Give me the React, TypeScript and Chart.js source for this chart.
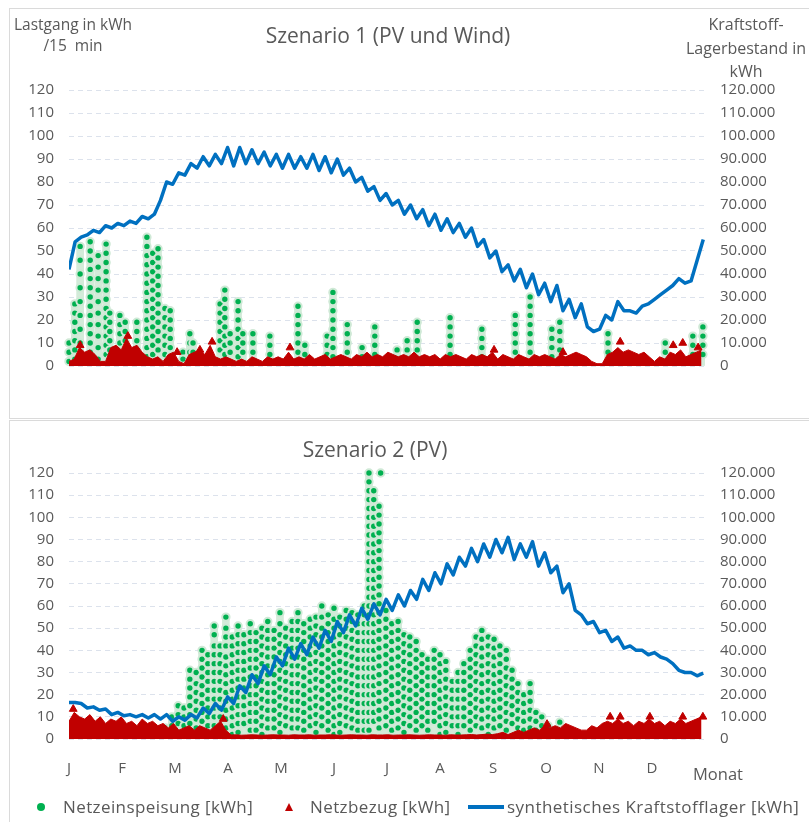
import React, { useEffect, useRef } from "react";
import { Chart, registerables } from "chart.js";

Chart.register(...registerables);

const FONT = "'Open Sans', 'Noto Sans', sans-serif";
const TEXT = "#595959";
const GREEN = "#00B050";
const RED = "#C00000";
const BLUE = "#0070C0";
const PALE = "#d3ebd9";

// x axis: months (0 = start of January ... 12 = end of December)
const monthLabels = ["J", "F", "M", "A", "M", "J", "J", "A", "S", "O", "N", "D"];
const gridStepDays = 3; // Netzbezug samples every 3 days
const fuelStepDays = 3.5; // Kraftstofflager samples every 3.5 days

// ---------- Szenario 1 (PV und Wind) ----------
// Netzeinspeisung: columns of 15-min values (position in months, visible dot values in kWh)
const s1FeedX = [
  0.0, 0.11, 0.21, 0.4, 0.55, 0.7, 0.77, 0.96, 1.06, 1.28, 1.47, 1.58, 1.68, 1.81, 1.91,
  2.15, 2.28, 2.34, 2.85, 2.94, 3.04, 3.19, 3.28, 3.47, 3.79, 4.32, 4.45, 4.87, 4.98, 5.25,
  5.53, 5.77, 6.19, 6.38, 6.57, 7.19, 7.79, 8.42, 8.7, 9.11, 9.26, 10.17, 11.25, 11.77, 11.96,
];
const s1FeedDots = [
  [10, 6, 2],
  [27, 23, 19, 15, 11, 7, 3],
  [52, 46, 40, 34, 28, 22, 16, 10, 4],
  [54, 50, 46, 42, 38, 34, 30, 26, 22, 18, 14, 10, 6, 2],
  [48, 43, 38, 33, 28, 23, 18, 13, 8, 3],
  [53, 49, 45, 41, 37, 33, 29, 25, 21, 17, 13, 9, 5],
  [23, 19, 15, 11, 7, 3],
  [22, 18, 14, 10, 6],
  [19, 15, 11, 7, 3],
  [19, 15, 11, 7, 3],
  [56, 52, 48, 44, 40, 36, 32, 28, 24, 20, 16, 12, 8, 4],
  [49, 45, 41, 37, 33, 29, 25, 21, 17, 13, 9, 5],
  [51, 47, 43, 39, 35, 31, 27, 23, 19, 15, 11, 7],
  [25, 21, 17, 13, 9, 5],
  [24, 20, 16, 12, 8, 4],
  [6, 3],
  [14, 10, 6, 2],
  [10, 6],
  [27, 23, 19, 15, 11, 7],
  [33, 29, 25, 21, 17, 13, 9, 5],
  [14, 10, 6],
  [28, 24, 20, 16, 12, 8, 4],
  [14, 10, 6],
  [14, 10, 6, 2],
  [13, 9, 5],
  [26, 22, 18, 14, 10, 6],
  [9, 5],
  [13, 9, 5],
  [32, 28, 24, 20, 16, 12, 8, 4],
  [18, 14, 10, 6],
  [8, 4],
  [17, 13, 9, 5],
  [7, 3],
  [11, 7, 3],
  [19, 15, 11, 7, 3],
  [21, 17, 13, 9, 5],
  [16, 12, 8, 4],
  [22, 18, 14, 10, 6],
  [30, 26, 22, 18, 14, 10, 6],
  [16, 12, 8, 4],
  [19, 15, 11, 7, 3],
  [14, 10, 6],
  [10, 6, 2],
  [13, 9, 5],
  [17, 13, 9, 5],
];
const s1FeedExtra: number[][] = [];
// Netzbezug in kWh / 15 min (every 3 days)
const s1Grid = [
  2, 3, 8, 6, 7, 5, 2, 2, 8, 9, 7, 12, 8, 9, 6, 4, 3, 4, 2, 5,
  6, 2, 1, 5, 6, 7, 5, 9, 4, 3, 4, 3, 2, 3, 2, 4, 3, 2, 4, 3,
  4, 3, 6, 3, 4, 3, 5, 3, 4, 5, 3, 4, 5, 4, 3, 5, 4, 6, 4, 5,
  4, 6, 5, 4, 5, 4, 6, 4, 5, 4, 5, 3, 5, 4, 5, 4, 3, 5, 4, 5,
  4, 6, 3, 5, 4, 3, 5, 4, 3, 5, 4, 5, 4, 3, 5, 4, 5, 6, 5, 4,
  2, 1, 1, 5, 6, 8, 6, 7, 6, 5, 6, 4, 2, 4, 3, 6, 5, 7, 4, 5,
  6, 7,
];
const s1GridPeaksX = [0.21, 1.11, 2.04, 2.47, 2.7, 4.17, 8.02, 9.32, 10.4, 11.4, 11.58, 11.87];
const s1GridPeaksY = [9, 13, 6, 7, 10.5, 8, 7, 6, 10.5, 9, 10, 8];
// synthetisches Kraftstofflager in 1.000 kWh (every 3.5 days)
const s1Fuel = [
  42, 54, 56, 57, 59, 58, 61, 60, 62, 61,
  63, 62, 65, 64, 66, 72, 80, 79, 84, 83,
  88, 86, 91, 87, 92, 88, 95, 87, 95, 88,
  94, 88, 93, 87, 92, 86, 92, 86, 91, 86,
  92, 85, 91, 84, 90, 83, 86, 80, 82, 76,
  78, 72, 75, 70, 72, 66, 70, 64, 68, 61,
  66, 59, 64, 58, 62, 56, 60, 52, 55, 47,
  50, 41, 44, 37, 42, 34, 40, 31, 36, 28,
  35, 24, 29, 21, 27, 17, 15, 16, 22, 20,
  28, 24, 24, 23, 26, 27, 29, 31, 33, 35,
  38, 36, 37, 46, 55,
];

// ---------- Szenario 2 (PV) ----------
const s2FeedX = [
  1.81, 1.94, 2.06, 2.17, 2.28, 2.4, 2.51, 2.62, 2.74, 2.85, 2.96, 3.08, 3.19, 3.3, 3.42,
  3.53, 3.64, 3.75, 3.87, 3.98, 4.09, 4.21, 4.32, 4.43, 4.55, 4.66, 4.77, 4.89, 5.0, 5.11,
  5.23, 5.34, 5.45, 5.57, 5.66, 5.75, 5.85, 5.98, 6.09, 6.21, 6.32, 6.43, 6.55, 6.66, 6.77,
  6.89, 7.0, 7.11, 7.23, 7.34, 7.45, 7.57, 7.68, 7.79, 7.91, 8.02, 8.13, 8.25, 8.36, 8.47,
  8.58, 8.7, 8.81, 8.92, 9.04, 9.26,
];
const s2FeedDots = [
  [5, 2],
  [10, 6, 2],
  [15, 11, 7, 3],
  [14, 10, 6, 2],
  [31, 27, 23, 19, 15, 11, 7, 3],
  [30, 25, 21, 17, 13, 9, 5],
  [40, 36, 32, 28, 24, 20, 16, 12, 8, 4],
  [38, 34, 30, 26, 22, 18, 14, 10, 6, 2],
  [51, 47, 42, 38, 34, 30, 26, 22, 18, 14, 10, 6],
  [42, 38, 34, 30, 26, 22, 18, 14, 10, 6, 2],
  [55, 50, 46, 42, 37, 33, 29, 25, 21, 17, 13, 9, 5],
  [46, 42, 38, 34, 30, 26, 22, 18, 14, 10, 6, 2],
  [51, 47, 43, 39, 35, 31, 27, 23, 19, 15, 11, 7, 3],
  [47, 43, 39, 35, 31, 27, 23, 19, 15, 11, 7],
  [52, 48, 44, 40, 36, 32, 28, 24, 20, 16, 12, 8, 4],
  [48, 44, 40, 36, 32, 28, 24, 20, 16, 12, 8, 4],
  [50, 46, 42, 38, 34, 30, 26, 22, 18, 14, 10, 6, 2],
  [53, 49, 45, 41, 37, 33, 29, 25, 21, 17, 13, 9, 5],
  [49, 45, 41, 37, 33, 29, 25, 21, 17, 13, 9, 5],
  [57, 52, 47, 43, 39, 35, 31, 27, 23, 19, 15, 11, 7, 3],
  [50, 46, 42, 38, 34, 30, 26, 22, 18, 14, 10, 6],
  [53, 49, 45, 41, 37, 33, 29, 25, 21, 17, 13, 9, 5],
  [57, 53, 49, 45, 41, 37, 33, 29, 25, 21, 17, 13, 9, 5],
  [52, 48, 44, 40, 36, 32, 28, 24, 20, 16, 12, 8, 4],
  [54, 50, 46, 42, 38, 34, 30, 26, 22, 18, 14, 10, 6],
  [55, 51, 47, 43, 39, 35, 31, 27, 23, 19, 15, 11, 7, 3],
  [60, 55, 50, 46, 42, 38, 34, 30, 26, 22, 18, 14, 10, 6],
  [56, 52, 48, 44, 40, 36, 32, 28, 24, 20, 16, 12, 8, 4],
  [59, 54, 50, 46, 42, 38, 34, 30, 26, 22, 18, 14, 10, 6, 2],
  [55, 51, 47, 43, 39, 35, 31, 27, 23, 19, 15, 11, 7, 3],
  [58, 54, 50, 46, 42, 38, 34, 30, 26, 22, 18, 14, 10, 6],
  [57, 53, 49, 45, 41, 37, 33, 29, 25, 21, 17, 13, 9, 5],
  [56, 52, 48, 44, 40, 36, 32, 28, 24, 20, 16, 12, 8, 4],
  [60, 56, 52, 48, 44, 40, 36, 32, 28, 24, 20, 16, 12, 8, 4],
  [120, 116, 112, 108, 104, 100, 96, 92, 88, 84, 80, 76, 72, 68, 64, 60, 56, 52, 48, 44, 40, 36, 32, 28, 24, 20, 16, 12, 8, 4],
  [112, 108, 104, 100, 96, 92, 88, 84, 80, 76, 72, 68, 64, 60, 56, 52, 48, 44, 40, 36, 32, 28, 24, 20, 16, 12, 8],
  [105, 101, 97, 93, 89, 85, 81, 77, 73, 69, 65, 61, 57, 53, 49, 45, 41, 37, 33, 29, 25, 21, 17, 13, 9, 5],
  [58, 54, 50, 46, 42, 38, 34, 30, 26, 22, 18, 14, 10, 6],
  [52, 48, 44, 40, 36, 32, 28, 24, 20, 16, 12, 8, 4],
  [53, 49, 45, 41, 37, 33, 29, 25, 21, 17, 13, 9, 5],
  [47, 43, 39, 35, 31, 27, 23, 19, 15, 11, 7, 3],
  [46, 42, 38, 34, 30, 26, 22, 18, 14, 10, 6],
  [44, 40, 36, 32, 28, 24, 20, 16, 12, 8, 4],
  [38, 34, 30, 26, 22, 18, 14, 10, 6],
  [36, 32, 28, 24, 20, 16, 12, 8, 4],
  [40, 36, 32, 28, 24, 20, 16, 12, 8],
  [38, 34, 30, 26, 22, 18, 14, 10, 6, 2],
  [35, 31, 27, 23, 19, 15, 11, 7, 3],
  [26, 22, 18, 14, 10, 6],
  [30, 26, 22, 18, 14, 10, 6, 2],
  [34, 30, 26, 22, 18, 14, 10, 6],
  [40, 36, 32, 28, 24, 20, 16, 12, 8, 4],
  [46, 42, 38, 34, 30, 26, 22, 18, 14, 10, 6],
  [49, 45, 41, 37, 33, 29, 25, 21, 17, 13, 9, 5],
  [46, 42, 38, 34, 30, 26, 22, 18, 14, 10, 6, 2],
  [45, 41, 37, 33, 29, 25, 21, 17, 13, 9, 5],
  [42, 38, 34, 30, 26, 22, 18, 14, 10, 6],
  [40, 36, 32, 28, 24, 20, 16, 12, 8, 4],
  [31, 27, 23, 19, 15, 11, 7],
  [25, 21, 17, 13, 9, 5],
  [20, 16, 12, 8, 4],
  [25, 21, 17, 13, 9, 5],
  [12, 8, 4],
  [10, 6],
  [6],
  [7.6],
];
const s2FeedExtra = [[5.88, 120]];
const s2Grid = [
  8, 12, 10, 9, 11, 8, 10, 7, 9, 8, 10, 7, 8, 6, 9, 7, 8, 6, 7, 5,
  7, 4, 5, 6, 4, 6, 5, 4, 6, 8, 4,
  1.8, 1.9, 1.7, 1.8, 1.9, 1.8, 1.7, 1.8, 1.9, 1.8, 1.8, 1.7, 1.9, 1.8, 1.8, 1.9, 1.7, 1.8,
  1.8, 1.9, 1.8, 1.7, 1.8, 1.9, 1.8, 1.8, 1.7, 1.9, 1.8, 1.8, 1.9, 1.7, 1.8, 1.8, 1.9, 1.8,
  1.7, 1.8, 1.9, 1.8, 1.8, 1.7, 1.9, 1.8, 1.8, 1.9, 2.0, 1.8, 2.0, 2.2, 2.0, 2.4,
  3, 2, 3, 4, 3, 4, 5, 4, 6, 5, 6, 5, 7, 6, 5, 4, 4, 6, 5, 7,
  8, 7, 9, 7, 8, 6, 8, 7, 9, 7, 8, 6, 8, 7, 9, 7, 8, 9, 10,
];
const s2GridPeaksX = [0.08, 2.91, 9.02, 10.21, 10.4, 10.96, 11.58, 11.96];
const s2GridPeaksY = [13.5, 9, 6.7, 10, 10, 10, 10, 10];
const s2Fuel = [
  16.5, 16.5, 16, 14, 14.5, 13, 13.5, 11, 12, 10.5,
  11, 10, 11, 9.5, 11, 9, 11, 8, 10, 8.5,
  11, 9.5, 14, 11.5, 16, 13, 19, 16, 24, 21,
  29, 25, 33, 29, 37, 33, 41, 36, 43, 38,
  46, 41, 49, 44, 53, 48, 56, 51, 59, 54,
  61, 56, 63, 58, 65, 60, 67, 63, 72, 67,
  75, 70, 79, 74, 82, 78, 86, 80, 88, 82,
  90, 84, 91, 81, 88, 82, 89, 78, 84, 75,
  78, 66, 70, 58, 56, 52, 53, 48, 49, 44,
  46, 41, 42, 40, 40, 38, 39, 37, 36, 34,
  31, 30, 30, 28.5, 29.7,
];

const dayToMonth = (d: number) => (d / 365) * 12;

function buildDatasets(
  feedX: number[],
  feedDots: number[][],
  feedExtra: number[][],
  grid: number[],
  peaksX: number[],
  peaksY: number[],
  fuel: number[]
) {
  const bars = feedX.map((x, i) => ({ x, y: [0, feedDots[i][0]] }));
  const dots: { x: number; y: number }[] = [];
  feedX.forEach((x, i) => feedDots[i].forEach((v) => dots.push({ x, y: v })));
  feedExtra.forEach(([x, y]) => dots.push({ x, y }));
  const gridPts = grid.map((v, i) => ({ x: dayToMonth(i * gridStepDays), y: v }));
  const peaks = peaksX.map((x, i) => ({ x, y: peaksY[i] }));
  const fuelPts = fuel.map((v, i) => ({ x: dayToMonth(i * fuelStepDays), y: v }));
  return [
    {
      type: "line",
      label: "synthetisches Kraftstofflager [kWh]",
      data: fuelPts,
      yAxisID: "y1",
      borderColor: BLUE,
      borderWidth: 3.5,
      pointRadius: 0,
      fill: false,
      tension: 0,
      borderJoinStyle: "round",
      order: 1,
    },
    {
      type: "scatter",
      label: "Netzbezug [kWh]",
      data: peaks,
      yAxisID: "y",
      pointStyle: "triangle",
      pointRadius: 4.5,
      backgroundColor: RED,
      borderColor: RED,
      borderWidth: 1,
      order: 2,
      clip: false,
    },
    {
      type: "line",
      label: "Netzbezug area",
      data: gridPts,
      yAxisID: "y",
      borderColor: RED,
      backgroundColor: RED,
      borderWidth: 1,
      pointRadius: 0,
      fill: "origin",
      tension: 0,
      order: 3,
    },
    {
      type: "scatter",
      label: "Netzeinspeisung [kWh]",
      data: dots,
      yAxisID: "y",
      pointStyle: "circle",
      pointRadius: 3.7,
      backgroundColor: GREEN,
      borderColor: "#cfe9d6",
      borderWidth: 2,
      order: 4,
      clip: false,
    },
    {
      type: "bar",
      label: "Netzeinspeisung range",
      data: bars,
      yAxisID: "y",
      backgroundColor: PALE,
      borderWidth: 0,
      barThickness: 7,
      grouped: false,
      order: 5,
    },
  ];
}

function buildOptions(showX: boolean, padTop: number, padBottom: number) {
  const tickFont = { family: FONT, size: 15 };
  return {
    animation: false,
    responsive: false,
    events: [],
    layout: { padding: { top: padTop, bottom: padBottom, left: 0, right: 0 } },
    plugins: {
      legend: { display: false },
      title: { display: false },
      tooltip: { enabled: false },
    },
    scales: {
      x: {
        type: "linear",
        min: 0,
        max: 12,
        offset: false,
        display: showX,
        grid: { display: false, drawTicks: false, offset: false },
        border: { display: false },
        ticks: {
          stepSize: 1,
          autoSkip: false,
          maxRotation: 0,
          padding: 21,
          color: TEXT,
          font: tickFont,
          callback: (v: number) => monthLabels[v] ?? "",
        },
        afterFit: (s: any) => {
          if (showX) s.height = 40;
        },
      },
      y: {
        type: "linear",
        position: "left",
        min: 0,
        max: 120,
        grid: { color: "#dce2ec", lineWidth: 1, drawTicks: false },
        border: { display: false, dash: [5, 4] },
        ticks: { stepSize: 10, autoSkip: false, padding: 15, color: TEXT, font: tickFont },
        afterFit: (s: any) => {
          s.width = 69;
        },
      },
      y1: {
        type: "linear",
        position: "right",
        min: 0,
        max: 120,
        grid: { display: false, drawTicks: false },
        border: { display: false },
        ticks: {
          stepSize: 10,
          autoSkip: false,
          padding: 15,
          color: TEXT,
          font: tickFont,
          callback: (v: number) => (v === 0 ? "0" : `${v}.000`),
        },
        afterFit: (s: any) => {
          s.width = 104;
        },
      },
    },
  };
}

type TxtProps = { x: number; y: number; size: number; children: React.ReactNode; center?: boolean; ls?: number };
const Txt = ({ x, y, size, children, center = true, ls = 0 }: TxtProps) => (
  <div
    style={{
      position: "absolute",
      left: x,
      top: y - size * 0.7,
      fontSize: size,
      lineHeight: `${size * 1.4}px`,
      transform: center ? "translateX(-50%)" : undefined,
      whiteSpace: "pre",
      letterSpacing: ls,
      color: TEXT,
    }}
  >
    {children}
  </div>
);

export default function App() {
  const topRef = useRef<HTMLCanvasElement>(null);
  const botRef = useRef<HTMLCanvasElement>(null);

  useEffect(() => {
    const c1 = new Chart(topRef.current as HTMLCanvasElement, {
      type: "scatter",
      data: {
        datasets: buildDatasets(s1FeedX, s1FeedDots, s1FeedExtra, s1Grid, s1GridPeaksX, s1GridPeaksY, s1Fuel) as any,
      },
      options: buildOptions(false, 90, 52) as any,
    });
    const c2 = new Chart(botRef.current as HTMLCanvasElement, {
      type: "scatter",
      data: {
        datasets: buildDatasets(s2FeedX, s2FeedDots, s2FeedExtra, s2Grid, s2GridPeaksX, s2GridPeaksY, s2Fuel) as any,
      },
      options: buildOptions(true, 53, 43) as any,
    });
    return () => {
      c1.destroy();
      c2.destroy();
    };
  }, []);

  return (
    <div
      style={{
        position: "absolute",
        left: 0,
        top: 0,
        width: 809,
        height: 822,
        background: "#fff",
        overflow: "hidden",
        fontFamily: FONT,
      }}
    >
      <div style={{ position: "absolute", left: 9, top: 8, width: 820, height: 411, border: "1px solid #dadada", boxSizing: "border-box" }} />
      <div style={{ position: "absolute", left: 9, top: 420, width: 820, height: 430, border: "1px solid #dadada", boxSizing: "border-box" }} />
      <canvas ref={topRef} width={809} height={418} style={{ position: "absolute", left: 0, top: 0, display: "block" }} />
      <canvas ref={botRef} width={809} height={402} style={{ position: "absolute", left: 0, top: 420, display: "block" }} />

      <Txt x={388} y={36} size={21}>Szenario 1 (PV und Wind)</Txt>
      <Txt x={375} y={450} size={21}>Szenario 2 (PV)</Txt>

      <Txt x={73} y={25} size={15.5}>Lastgang in kWh</Txt>
      <Txt x={73} y={46} size={15.5}>{"/15  min"}</Txt>
      <Txt x={746} y={24} size={16}>Kraftstoff-</Txt>
      <Txt x={746} y={48} size={16}>Lagerbestand in</Txt>
      <Txt x={746} y={71} size={16}>kWh</Txt>

      <Txt x={693} y={774} size={16.5} center={false}>Monat</Txt>

      <div style={{ position: "absolute", left: 37, top: 803, width: 8, height: 8, borderRadius: "50%", background: GREEN }} />
      <Txt x={63} y={807} size={17} center={false} ls={0.4}>Netzeinspeisung [kWh]</Txt>
      <div
        style={{
          position: "absolute",
          left: 285,
          top: 803,
          width: 0,
          height: 0,
          borderLeft: "4.5px solid transparent",
          borderRight: "4.5px solid transparent",
          borderBottom: `8px solid ${RED}`,
        }}
      />
      <Txt x={310} y={807} size={17} center={false} ls={0.4}>Netzbezug [kWh]</Txt>
      <div style={{ position: "absolute", left: 468, top: 805, width: 36, height: 3.5, background: BLUE }} />
      <Txt x={507} y={807} size={17} center={false} ls={0.45}>synthetisches Kraftstofflager [kWh]</Txt>
    </div>
  );
}
